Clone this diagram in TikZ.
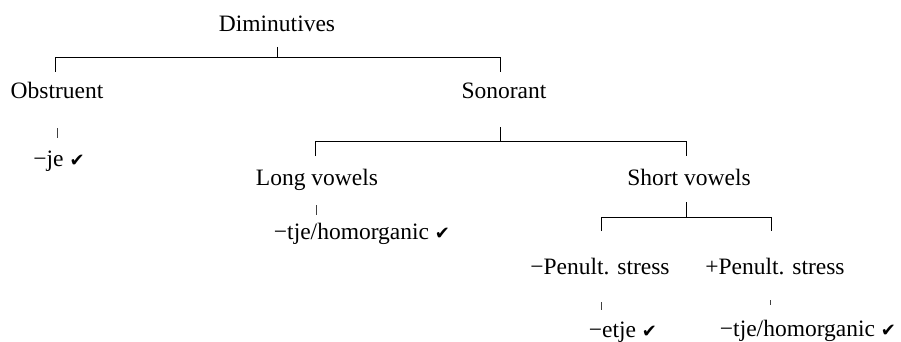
\documentclass[tikz,border=0pt]{standalone}
\usepackage{fontspec}
\setmainfont{Liberation Serif}
\newfontfamily\symfont{DejaVu Sans}
\newcommand{\ok}{{\symfont\fontsize{18}{20}\selectfont ✔}}
\begin{document}
\begin{tikzpicture}[x=1pt,y=-1pt,
  lbl/.style={anchor=base,inner sep=0pt,font=\fontsize{23.5}{28}\selectfont},
  edge/.style={line width=1pt},
  tick/.style={line width=0.7pt,black!75}]
\useasboundingbox (0,0) rectangle (901,342);
% labels
\node[lbl] (dim)   at (277,32)  {Diminutives};
\node[lbl] (obs)   at (57,99)   {Obstruent};
\node[lbl] (son)   at (504,99)  {Sonorant};
\node[lbl] (je)    at (59,166)  {−je \ok};
\node[lbl] (long)  at (317,185) {Long vowels};
\node[lbl] (short) at (689,185) {Short vowels};
\node[lbl] (tjeA)  at (362,239) {−tje/homorganic \ok};
\node[lbl] (mpen)  at (600,274) {−Penult. stress};
\node[lbl] (ppen)  at (775,274) {+Penult. stress};
\node[lbl] (etje)  at (623,337) {−etje \ok};
\node[lbl] (tjeB)  at (808,336) {−tje/homorganic \ok};
% connector end points
\coordinate (dimS)   at (277,47);
\coordinate (obsN)   at (55,72);
\coordinate (sonN)   at (500,72);
\coordinate (sonS)   at (500,127);
\coordinate (longN)  at (315,156);
\coordinate (shortN) at (686,156);
\coordinate (shortS) at (686,202);
\coordinate (mpenN)  at (601,231);
\coordinate (ppenN)  at (771,231);
% tree connectors
\draw[edge] (dimS) -- ++(0,11);
\draw[edge] (obsN) -- ++(0,-14) -| (sonN);
\draw[edge] (sonS) -- ++(0,14);
\draw[edge] (longN) -- ++(0,-15) -| (shortN);
\draw[edge] (shortS) -- ++(0,15);
\draw[edge] (mpenN) -- ++(0,-14) -| (ppenN);
% small leaf ticks
\coordinate (obsT)  at (57,128);
\coordinate (longT) at (316,205);
\coordinate (mpenT) at (601,302);
\coordinate (ppenT) at (770,300);
\draw[tick] (obsT) -- ++(0,10);
\draw[tick] (longT) -- ++(0,10);
\draw[tick] (mpenT) -- ++(0,8);
\draw[tick] (ppenT) -- ++(0,5);
\end{tikzpicture}
\end{document}
